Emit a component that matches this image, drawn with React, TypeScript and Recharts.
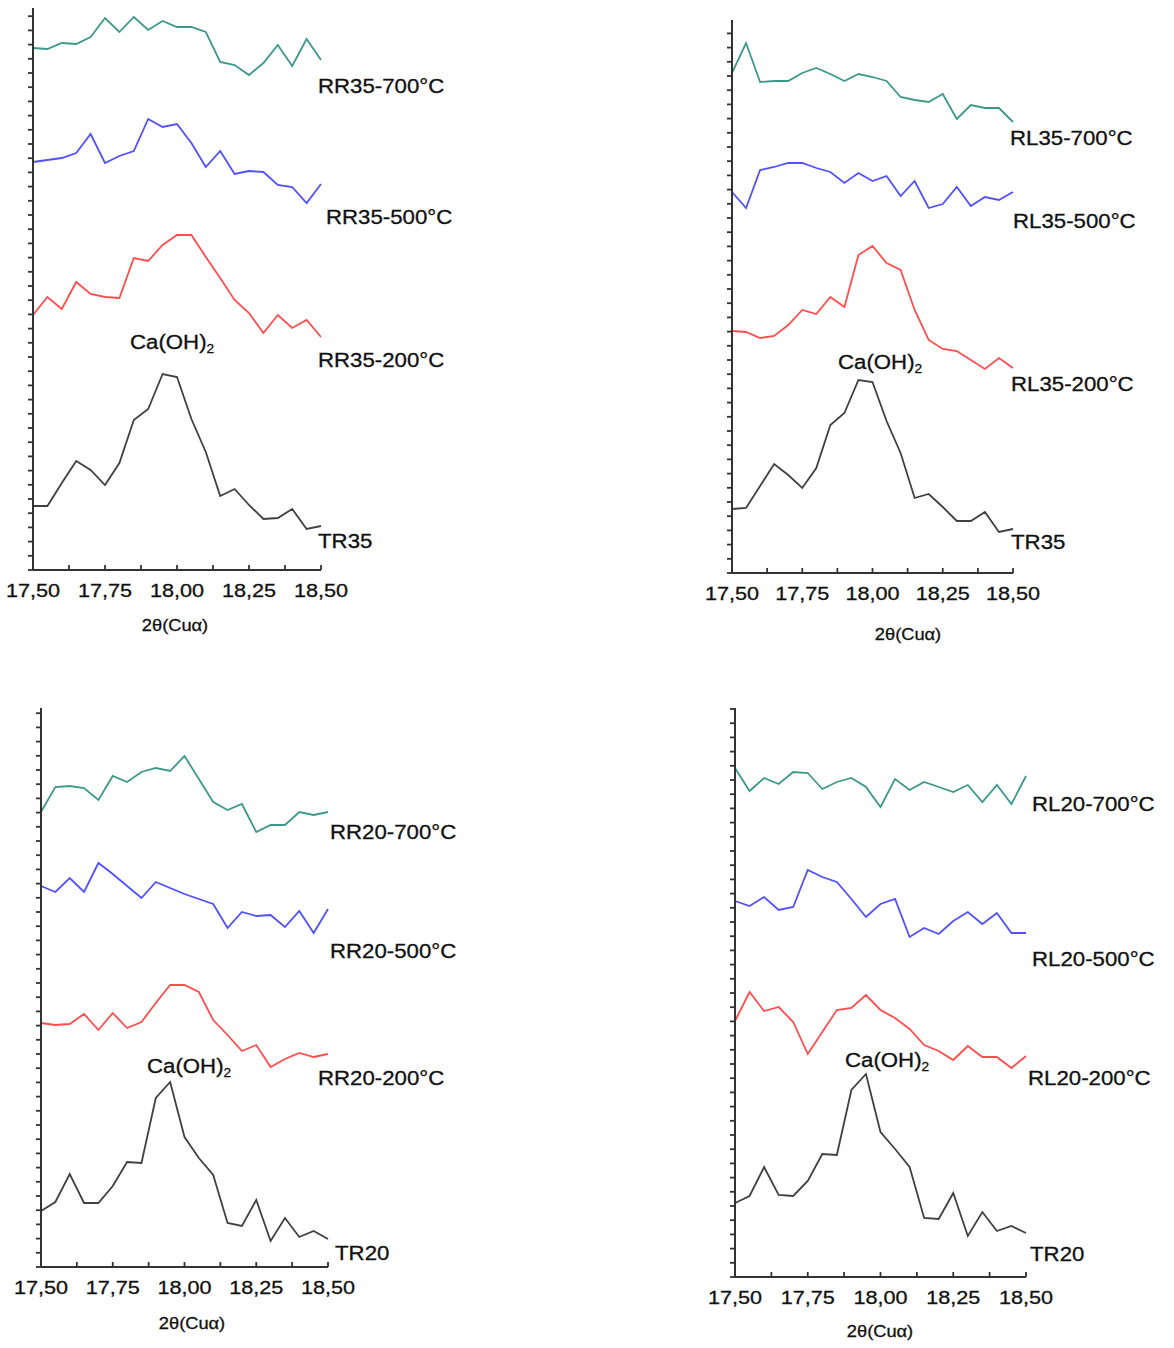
import React from 'react';
import { LineChart, Line, XAxis, YAxis } from 'recharts';

// 2θ steps, shared by all four panels
const theta = [17.5, 17.55, 17.6, 17.65, 17.7, 17.75, 17.8, 17.85, 17.9, 17.95, 18.0, 18.05, 18.1, 18.15, 18.2, 18.25, 18.3, 18.35, 18.4, 18.45, 18.5];
const xTicks = [17.5, 17.625, 17.75, 17.875, 18.0, 18.125, 18.25, 18.375, 18.5];

// intensities (arbitrary units, offset curves)
const rr35_700 = [522, 521, 527, 526, 533, 552, 538, 553, 540, 549, 543, 543, 538, 508, 505, 495, 507, 525, 504, 531, 510];
const rr35_500 = [408, 410, 412, 417, 436, 407, 414, 419, 451, 443, 446, 427, 403, 419, 396, 399, 398, 385, 383, 367, 386];
const rr35_200 = [255, 273, 261, 288, 276, 273, 272, 312, 309, 325, 335, 335, 313, 292, 270, 257, 237, 255, 242, 250, 233];
const tr35_a = [64, 64, 87, 109, 100, 85, 107, 150, 161, 196, 193, 151, 118, 74, 81, 65, 51, 52, 61, 41, 44];

const rl35_700 = [500, 530, 491, 492, 492, 500, 505, 499, 492, 499, 496, 492, 476, 473, 471, 479, 454, 468, 465, 465, 451];
const rl35_500 = [381, 365, 403, 406, 410, 410, 405, 401, 390, 400, 392, 397, 377, 392, 365, 369, 386, 367, 376, 373, 381];
const rl35_200 = [242, 241, 235, 237, 248, 263, 259, 276, 266, 318, 327, 310, 303, 263, 233, 224, 222, 213, 204, 215, 205];
const tr35_b = [64, 65, 87, 109, 98, 85, 105, 148, 160, 193, 191, 152, 120, 75, 79, 66, 52, 52, 61, 41, 44];

const rr20_700 = [455, 480, 481, 479, 467, 491, 485, 495, 499, 496, 511, 488, 465, 457, 463, 435, 442, 442, 455, 452, 455];
const rr20_500 = [381, 375, 389, 375, 404, 393, 381, 369, 385, 379, 373, 368, 363, 339, 355, 351, 352, 340, 356, 334, 358];
const rr20_200 = [244, 242, 243, 253, 237, 254, 239, 245, 264, 282, 282, 275, 247, 232, 216, 222, 200, 208, 214, 210, 213];
const tr20_a = [56, 65, 93, 64, 64, 81, 105, 104, 169, 185, 130, 109, 92, 44, 41, 67, 26, 49, 30, 36, 28];

const rl20_700 = [509, 486, 499, 493, 505, 504, 488, 495, 499, 490, 470, 498, 487, 495, 490, 485, 492, 475, 492, 473, 501];
const rl20_500 = [376, 371, 380, 367, 370, 407, 400, 395, 378, 360, 373, 378, 340, 349, 343, 356, 365, 353, 364, 344, 344];
const rl20_200 = [256, 285, 266, 270, 255, 223, 245, 267, 269, 282, 267, 259, 248, 232, 226, 217, 231, 220, 220, 209, 221];
const tr20_b = [74, 81, 110, 82, 81, 96, 123, 122, 187, 203, 145, 128, 110, 59, 58, 84, 41, 65, 46, 51, 44];

const COLORS = ['#3d988c', '#5050ff', '#ff4d4d', '#404040'];
const FONT = '"Liberation Sans", Arial, sans-serif';
const STRETCH = 1.14;

const XTick = (props: any) => {
  const { x, y, payload } = props;
  const v = payload.value as number;
  const major = Math.abs(v * 4 - Math.round(v * 4)) < 1e-6;
  const ax = y - 14;
  return (
    <g>
      <line x1={x} x2={x} y1={ax} y2={ax - 5} stroke="#333" strokeWidth={1.8} />
      {major && (
        <text
          x={0}
          y={0}
          transform={`translate(${x},${y}) scale(${STRETCH},1)`}
          dy="0.71em"
          textAnchor="middle"
          fontSize={19}
          fontFamily={FONT}
          fill="#111"
          stroke="#111"
          strokeWidth={0.3}
        >
          {v.toFixed(2).replace('.', ',')}
        </text>
      )}
    </g>
  );
};

// unlabeled minor ticks on the intensity axis, pointing outward
const YTick = (props: any) => {
  const { x, y } = props;
  return <line x1={x} x2={x - 5} y1={y} y2={y} stroke="#333" strokeWidth={1.8} />;
};

const Txt = ({ x, cy, children, size = 19.5, center = false }: any) => (
  <div
    style={{
      position: 'absolute',
      left: x,
      top: cy - 11,
      height: 22,
      lineHeight: '22px',
      fontSize: size,
      fontFamily: FONT,
      color: '#111',
      WebkitTextStroke: '0.3px #111',
      whiteSpace: 'nowrap',
      transform: center ? `translateX(-50%) scaleX(${STRETCH})` : `scaleX(${STRETCH})`,
      transformOrigin: center ? 'center' : 'left',
    }}
  >
    {children}
  </div>
);

const CaOH = () => (
  <span>
    Ca(OH)<sub style={{ fontSize: 12, verticalAlign: -4 }}>2</sub>
  </span>
);

type Geo = { axisX: number; rightX: number; top: number; bottom: number };

const Panel = ({ geo, series }: { geo: Geo; series: number[][] }) => {
  const data = theta.map((t, i) => ({ t, a: series[0][i], b: series[1][i], c: series[2][i], d: series[3][i] }));
  const plotH = geo.bottom - geo.top;
  const yTicks: number[] = [];
  for (let k = 0; k * 14.2 <= plotH; k++) yTicks.push(k * 14.2);
  const w = geo.rightX - geo.axisX + 80;
  const h = plotH + 90;
  return (
    <div style={{ position: 'absolute', left: geo.axisX - 40, top: geo.top - 10 }}>
      <LineChart width={w} height={h} data={data} margin={{ top: 10, right: 40, left: 10, bottom: 10 }}>
        <XAxis
          dataKey="t"
          type="number"
          domain={[17.5, 18.5]}
          ticks={xTicks}
          interval={0}
          height={70}
          tickSize={0}
          tickMargin={14}
          tickLine={false}
          tick={<XTick />}
          axisLine={{ stroke: '#333', strokeWidth: 2 }}
        />
        <YAxis
          type="number"
          domain={[0, plotH]}
          ticks={yTicks}
          interval={0}
          width={30}
          tickSize={0}
          tickMargin={0}
          tickLine={false}
          tick={<YTick />}
          axisLine={{ stroke: '#333', strokeWidth: 2 }}
        />
        {['a', 'b', 'c', 'd'].map((k, i) => (
          <Line
            key={k}
            dataKey={k}
            type="linear"
            stroke={COLORS[i]}
            strokeWidth={1.8}
            dot={false}
            isAnimationActive={false}
          />
        ))}
      </LineChart>
    </div>
  );
};

export default function App() {
  return (
    <div style={{ position: 'absolute', left: 0, top: 0, width: 1174, height: 1348, background: '#fff', fontFamily: FONT }}>
      <Panel geo={{ axisX: 33, rightX: 321, top: 8, bottom: 570 }} series={[rr35_700, rr35_500, rr35_200, tr35_a]} />
      <Panel geo={{ axisX: 732, rightX: 1013, top: 20, bottom: 573 }} series={[rl35_700, rl35_500, rl35_200, tr35_b]} />
      <Panel geo={{ axisX: 41, rightX: 328, top: 708, bottom: 1267 }} series={[rr20_700, rr20_500, rr20_200, tr20_a]} />
      <Panel geo={{ axisX: 735, rightX: 1026, top: 708, bottom: 1277 }} series={[rl20_700, rl20_500, rl20_200, tr20_b]} />

      <Txt x={318} cy={86}>RR35-700°C</Txt>
      <Txt x={326} cy={217}>RR35-500°C</Txt>
      <Txt x={318} cy={360}>RR35-200°C</Txt>
      <Txt x={318} cy={541}>TR35</Txt>
      <Txt x={130} cy={342}><CaOH /></Txt>
      <Txt x={175} cy={626} size={16} center>2θ(Cuα)</Txt>

      <Txt x={1010} cy={138}>RL35-700°C</Txt>
      <Txt x={1013} cy={221}>RL35-500°C</Txt>
      <Txt x={1011} cy={384}>RL35-200°C</Txt>
      <Txt x={1011} cy={542}>TR35</Txt>
      <Txt x={838} cy={362}><CaOH /></Txt>
      <Txt x={908} cy={635} size={16} center>2θ(Cuα)</Txt>

      <Txt x={330} cy={832}>RR20-700°C</Txt>
      <Txt x={330} cy={951}>RR20-500°C</Txt>
      <Txt x={318} cy={1078}>RR20-200°C</Txt>
      <Txt x={335} cy={1253}>TR20</Txt>
      <Txt x={147} cy={1066}><CaOH /></Txt>
      <Txt x={192} cy={1324} size={16} center>2θ(Cuα)</Txt>

      <Txt x={1032} cy={804}>RL20-700°C</Txt>
      <Txt x={1032} cy={959}>RL20-500°C</Txt>
      <Txt x={1028} cy={1078}>RL20-200°C</Txt>
      <Txt x={1030} cy={1254}>TR20</Txt>
      <Txt x={845} cy={1060}><CaOH /></Txt>
      <Txt x={880} cy={1332} size={16} center>2θ(Cuα)</Txt>
    </div>
  );
}
